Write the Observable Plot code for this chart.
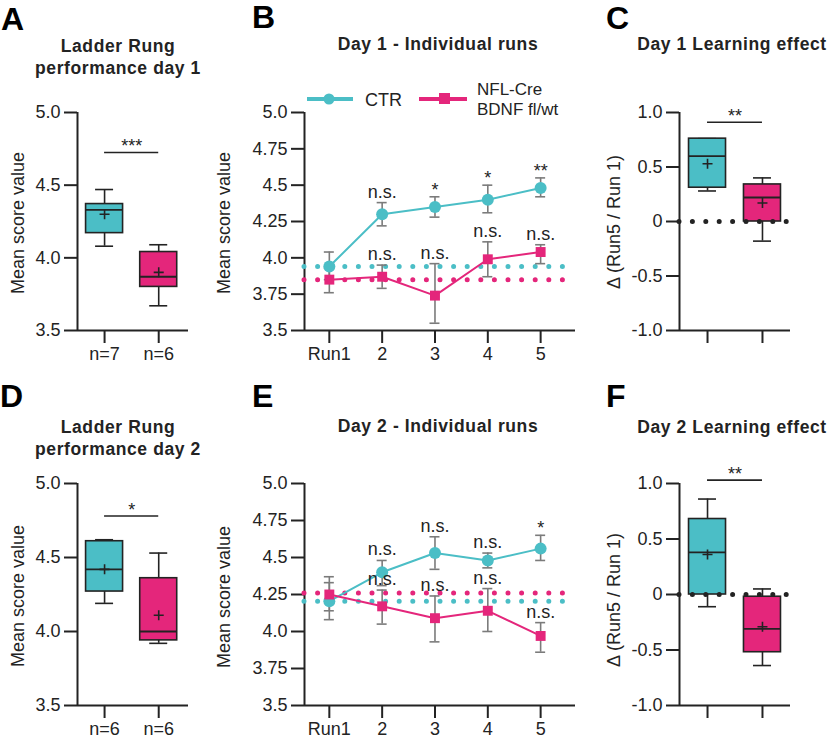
<!DOCTYPE html>
<html><head><meta charset="utf-8">
<script src="https://cdn.jsdelivr.net/npm/d3@7"></script>
<script src="https://cdn.jsdelivr.net/npm/@observablehq/plot@0.6"></script>
<style>
body{margin:0;background:#fff;}
#fig{position:relative;width:828px;height:744px;overflow:hidden;background:#fff;font-family:Arial,"Liberation Sans",sans-serif;}
</style></head><body><div id="fig"></div>
<script>
// ---------- data ----------
const groupNamesDay1 = ["n=7", "n=6"];
const groupNamesDay2 = ["n=6", "n=6"];

// Box plots: Ladder rung performance (A: day 1, D: day 2)
const perfDay1 = [
  {g: 1, min: 4.08, q1: 4.17, med: 4.33, q3: 4.37, max: 4.47, mean: 4.30},
  {g: 2, min: 3.67, q1: 3.80, med: 3.87, q3: 4.04, max: 4.09, mean: 3.90}
];
const perfDay2 = [
  {g: 1, min: 4.19, q1: 4.27, med: 4.42, q3: 4.61, max: 4.62, mean: 4.42},
  {g: 2, min: 3.92, q1: 3.94, med: 4.00, q3: 4.36, max: 4.53, mean: 4.11}
];
// Box plots: learning effect (C: day 1, F: day 2)
const learnDay1 = [
  {g: 1, min: 0.28, q1: 0.31, med: 0.60, q3: 0.76, max: 0.76, mean: 0.53},
  {g: 2, min: -0.18, q1: 0.0, med: 0.22, q3: 0.34, max: 0.40, mean: 0.17}
];
const learnDay2 = [
  {g: 1, min: -0.11, q1: 0.0, med: 0.38, q3: 0.68, max: 0.86, mean: 0.36},
  {g: 2, min: -0.64, q1: -0.52, med: -0.31, q3: -0.02, max: 0.05, mean: -0.29}
];
// significance bars
const sigA = [{x1: 1, x2: 2, y: 4.725, label: "***"}];
const sigC = [{x1: 1, x2: 2, y: 0.91, label: "**"}];
const sigD = [{x1: 1, x2: 2, y: 4.78, label: "*"}];
const sigF = [{x1: 1, x2: 2, y: 1.03, label: "**"}];

// Individual runs
const runs = [1, 2, 3, 4, 5];
const runLabels = ["Run1", "2", "3", "4", "5"];
const ctrDay1Mean = [3.94, 4.30, 4.35, 4.40, 4.48];
const ctrDay1Lo   = [3.85, 4.22, 4.28, 4.31, 4.42];
const ctrDay1Hi   = [4.04, 4.38, 4.42, 4.50, 4.55];
const ctrDay1Sig  = ["", "n.s.", "*", "*", "**"];
const mutDay1Mean = [3.85, 3.87, 3.74, 3.99, 4.04];
const mutDay1Lo   = [3.76, 3.79, 3.55, 3.87, 3.96];
const mutDay1Hi   = [3.93, 3.95, 3.96, 4.11, 4.09];
const mutDay1Sig  = ["", "n.s.", "n.s.", "n.s.", "n.s."];
const day1Baseline = {ctr: 3.94, mut: 3.85};

const ctrDay2Mean = [4.205, 4.40, 4.53, 4.48, 4.56];
const ctrDay2Lo   = [4.08, 4.31, 4.42, 4.43, 4.48];
const ctrDay2Hi   = [4.33, 4.48, 4.64, 4.53, 4.65];
const ctrDay2Sig  = ["", "n.s.", "n.s.", "n.s.", "*"];
const mutDay2Mean = [4.25, 4.17, 4.09, 4.14, 3.97];
const mutDay2Lo   = [4.14, 4.05, 3.93, 4.00, 3.86];
const mutDay2Hi   = [4.37, 4.28, 4.24, 4.29, 4.06];
const mutDay2Sig  = ["", "n.s.", "n.s.", "n.s.", "n.s."];
const day2Baseline = {ctr: 4.205, mut: 4.26};

const scoreTicks = [3.5, 4.0, 4.5, 5.0];
const runScoreTicks = [3.5, 3.75, 4.0, 4.25, 4.5, 4.75, 5.0];
const deltaTicks = [-1.0, -0.5, 0, 0.5, 1.0];

// ---------- styling ----------
const TEAL = "#4bbec6", PINK = "#e4267b", INK = "#232323", GREY = "#7b7b7b";
const FONT = "Arial, 'Liberation Sans', sans-serif";
const fig = document.getElementById("fig");
function place(svg, left, top) {
  svg.style.position = "absolute";
  svg.style.left = left + "px";
  svg.style.top = top + "px";
  fig.appendChild(svg);
}
const thinPlus = {draw(ctx, size) {
  const r = Math.sqrt(size / Math.PI);
  ctx.moveTo(-r, 0); ctx.lineTo(r, 0); ctx.moveTo(0, -r); ctx.lineTo(0, r);
}};
const fmtScore = d => (Math.round(d * 100) % 50 === 0 ? d.toFixed(1) : d.toFixed(2));
const fmtDelta = d => (d === 0 ? "0" : d.toFixed(1));
const groupColor = d => (d.g === 1 ? TEAL : PINK);

function boxPanel({boxes, sig, yDomain, yTicks, yFormat, xLabels, zero, width, marginLeft, marginRight, height, marginBottom, xDomain}) {
  const pxPerUnit = (width - marginLeft - marginRight) / (xDomain[1] - xDomain[0]);
  const half = 18.5 / pxPerUnit, cap = 9 / pxPerUnit;
  const marks = [
    Plot.axisY({ticks: yTicks, tickFormat: yFormat, tickSize: 13, tickPadding: 4, strokeWidth: 2, stroke: INK, fill: INK, fontSize: 18, label: null}),
    Plot.axisX({ticks: [1, 2], tickFormat: d => (xLabels ? xLabels[d - 1] : ""), tickSize: 13, tickPadding: 4, strokeWidth: 2, stroke: INK, fill: INK, fontSize: 18, label: null}),
    Plot.ruleX([xDomain[0]], {y1: yDomain[0], y2: yDomain[1], stroke: INK, strokeWidth: 2}),
    Plot.ruleY([yDomain[0]], {x1: xDomain[0], x2: xDomain[1], stroke: INK, strokeWidth: 2})
  ];
  marks.push(
    Plot.ruleX(boxes, {x: "g", y1: "min", y2: "q1", stroke: INK, strokeWidth: 1.6}),
    Plot.ruleX(boxes, {x: "g", y1: "q3", y2: "max", stroke: INK, strokeWidth: 1.6}),
    Plot.ruleY(boxes, {y: "min", x1: d => d.g - cap, x2: d => d.g + cap, stroke: INK, strokeWidth: 1.6}),
    Plot.ruleY(boxes, {y: "max", x1: d => d.g - cap, x2: d => d.g + cap, stroke: INK, strokeWidth: 1.6}),
    Plot.rect(boxes, {x1: d => d.g - half, x2: d => d.g + half, y1: "q1", y2: "q3", fill: groupColor, stroke: INK, strokeWidth: 1.6}),
    Plot.ruleY(boxes, {y: "med", x1: d => d.g - half, x2: d => d.g + half, stroke: INK, strokeWidth: 1.8}),
    Plot.dot(boxes, {x: "g", y: "mean", symbol: thinPlus, r: 5, fill: "none", stroke: INK, strokeWidth: 1.6})
  );
  if (zero) marks.push(Plot.ruleY([0], {x1: xDomain[0], x2: xDomain[1], stroke: INK, strokeWidth: 5, strokeDasharray: "0,13.4", strokeLinecap: "round"}));
  marks.push(
    Plot.ruleY(sig, {y: "y", x1: "x1", x2: "x2", stroke: INK, strokeWidth: 1.6}),
    Plot.text(sig, {x: d => (d.x1 + d.x2) / 2, y: "y", text: "label", lineAnchor: "bottom", dy: 0, fontSize: 18, fill: INK})
  );
  return Plot.plot({
    width, height, marginLeft, marginRight, marginTop: 22, marginBottom,
    style: {fontFamily: FONT, fontSize: "18px", color: INK, background: "transparent", overflow: "visible"},
    x: {domain: xDomain, axis: null},
    y: {domain: yDomain, axis: null},
    color: {type: "identity"},
    marks
  });
}

function runRows(mean, lo, hi, sig) {
  return runs.map((r, i) => ({run: r, mean: mean[i], lo: lo[i], hi: hi[i], sig: sig[i]}));
}

function linePanel({ctr, mut, base, height, marginBottom}) {
  const width = 380, marginLeft = 104, marginRight = 5;
  const xDomain = [0.53, 5.66], yDomain = [3.5, 5.0];
  const pxPerUnit = (width - marginLeft - marginRight) / (xDomain[1] - xDomain[0]);
  const cap = 5 / pxPerUnit;
  const both = ctr.concat(mut);
  const stars = both.filter(d => d.sig.startsWith("*"));
  const ns = both.filter(d => d.sig === "n.s.");
  return Plot.plot({
    width, height, marginLeft, marginRight, marginTop: 22, marginBottom,
    style: {fontFamily: FONT, fontSize: "18px", color: INK, background: "transparent", overflow: "visible"},
    x: {domain: xDomain, axis: null},
    y: {domain: yDomain, axis: null},
    marks: [
      Plot.axisY({ticks: runScoreTicks, tickFormat: fmtScore, tickSize: 13, tickPadding: 4, strokeWidth: 2, stroke: INK, fill: INK, fontSize: 18, label: null}),
      Plot.axisX({ticks: runs, tickFormat: d => runLabels[d - 1], tickSize: 13, tickPadding: 4, strokeWidth: 2, stroke: INK, fill: INK, fontSize: 18, label: null}),
      Plot.ruleX([xDomain[0]], {y1: yDomain[0], y2: yDomain[1], stroke: INK, strokeWidth: 2}),
      Plot.ruleY([yDomain[0]], {x1: xDomain[0], x2: xDomain[1], stroke: INK, strokeWidth: 2}),
      Plot.ruleY([base.mut], {x1: xDomain[0], x2: 5.45, stroke: PINK, strokeWidth: 5, strokeDasharray: "0,13.6", strokeLinecap: "round"}),
      Plot.ruleY([base.ctr], {x1: xDomain[0], x2: 5.45, stroke: TEAL, strokeWidth: 5, strokeDasharray: "0,13.6", strokeLinecap: "round"}),
      Plot.ruleX(both, {x: "run", y1: "lo", y2: "hi", stroke: GREY, strokeWidth: 1.6}),
      Plot.ruleY(both, {y: "lo", x1: d => d.run - cap, x2: d => d.run + cap, stroke: GREY, strokeWidth: 1.6}),
      Plot.ruleY(both, {y: "hi", x1: d => d.run - cap, x2: d => d.run + cap, stroke: GREY, strokeWidth: 1.6}),
      Plot.line(ctr, {x: "run", y: "mean", stroke: TEAL, strokeWidth: 2}),
      Plot.line(mut, {x: "run", y: "mean", stroke: PINK, strokeWidth: 2}),
      Plot.dot(ctr, {x: "run", y: "mean", r: 6, fill: TEAL, symbol: "circle"}),
      Plot.dot(mut, {x: "run", y: "mean", r: 5.6, fill: PINK, symbol: "square"}),
      Plot.text(ns, {x: "run", y: "hi", text: "sig", lineAnchor: "bottom", dy: -5, fontSize: 18, fill: INK}),
      Plot.text(stars, {x: "run", y: "hi", text: "sig", lineAnchor: "bottom", dy: -1, fontSize: 18, fill: INK})
    ]
  });
}

// ---------- panels ----------
const TOP = {top: 90, height: 280, marginBottom: 40};
const BOT = {top: 461, height: 283, marginBottom: 39};

place(boxPanel({boxes: perfDay1, sig: sigA, yDomain: [3.5, 5.0], yTicks: scoreTicks, yFormat: fmtScore, xLabels: groupNamesDay1,
  zero: false, width: 200, marginLeft: 77, marginRight: 12, height: TOP.height, marginBottom: TOP.marginBottom, xDomain: [0.5, 2.55]}), 0, TOP.top);
place(linePanel({ctr: runRows(ctrDay1Mean, ctrDay1Lo, ctrDay1Hi, ctrDay1Sig), mut: runRows(mutDay1Mean, mutDay1Lo, mutDay1Hi, mutDay1Sig),
  base: day1Baseline, height: TOP.height, marginBottom: TOP.marginBottom}), 200, TOP.top);
place(boxPanel({boxes: learnDay1, sig: sigC, yDomain: [-1, 1], yTicks: deltaTicks, yFormat: fmtDelta, xLabels: null,
  zero: true, width: 248, marginLeft: 99, marginRight: 38, height: TOP.height, marginBottom: TOP.marginBottom, xDomain: [0.49, 2.51]}), 580, TOP.top);

place(boxPanel({boxes: perfDay2, sig: sigD, yDomain: [3.5, 5.0], yTicks: scoreTicks, yFormat: fmtScore, xLabels: groupNamesDay2,
  zero: false, width: 200, marginLeft: 77, marginRight: 12, height: BOT.height, marginBottom: BOT.marginBottom, xDomain: [0.5, 2.55]}), 0, BOT.top);
place(linePanel({ctr: runRows(ctrDay2Mean, ctrDay2Lo, ctrDay2Hi, ctrDay2Sig), mut: runRows(mutDay2Mean, mutDay2Lo, mutDay2Hi, mutDay2Sig),
  base: day2Baseline, height: BOT.height, marginBottom: BOT.marginBottom}), 200, BOT.top);
place(boxPanel({boxes: learnDay2, sig: sigF, yDomain: [-1, 1], yTicks: deltaTicks, yFormat: fmtDelta, xLabels: null,
  zero: true, width: 248, marginLeft: 99, marginRight: 38, height: BOT.height, marginBottom: BOT.marginBottom, xDomain: [0.49, 2.51]}), 580, BOT.top);

// ---------- overlay text: letters, titles, axis labels, legend ----------
const NS = "http://www.w3.org/2000/svg";
const ov = document.createElementNS(NS, "svg");
ov.setAttribute("width", 828); ov.setAttribute("height", 744);
ov.style.position = "absolute"; ov.style.left = "0px"; ov.style.top = "0px";
ov.style.fontFamily = FONT;
fig.appendChild(ov);
function txt(s, x, y, o = {}) {
  const t = document.createElementNS(NS, "text");
  t.textContent = s;
  t.setAttribute("x", o.rotate ? 0 : x); t.setAttribute("y", o.rotate ? 0 : y);
  if (o.rotate) t.setAttribute("transform", `translate(${x},${y}) rotate(${o.rotate})`);
  t.setAttribute("font-size", o.size || 18);
  t.setAttribute("font-weight", o.weight || "normal");
  t.setAttribute("text-anchor", o.anchor || "start");
  t.setAttribute("fill", o.fill || INK);
  if (o.spacing) t.setAttribute("letter-spacing", o.spacing);
  ov.appendChild(t);
}
function el(name, attrs) {
  const e = document.createElementNS(NS, name);
  for (const k in attrs) e.setAttribute(k, attrs[k]);
  ov.appendChild(e);
}
const letters = [["A", 1, 30], ["B", 252, 28], ["C", 606, 29], ["D", 0, 407], ["E", 252, 407], ["F", 606, 407]];
letters.forEach(([s, x, y]) => txt(s, x, y, {size: 32, weight: "bold", fill: "#000"}));
const tOpt = {size: 17.5, weight: "bold", anchor: "middle", spacing: 0.6};
txt("Ladder Rung", 118, 52, tOpt); txt("performance day 1", 118, 74, tOpt);
txt("Day 1 - Individual runs", 438, 50, tOpt);
txt("Day 1 Learning effect", 732, 50, tOpt);
txt("Ladder Rung", 118, 433, tOpt); txt("performance day 2", 118, 455, tOpt);
txt("Day 2 - Individual runs", 438, 432, tOpt);
txt("Day 2 Learning effect", 732, 433, tOpt);
const yl = {size: 18, anchor: "middle", rotate: -90};
txt("Mean score value", 24, 223, yl);
txt("Mean score value", 230, 223, yl);
txt("Δ (Run5 / Run 1)", 620, 222, yl);
txt("Mean score value", 24, 596, yl);
txt("Mean score value", 230, 597, yl);
txt("Δ (Run5 / Run 1)", 620, 600, yl);
// legend (panel B)
el("line", {x1: 307, x2: 353, y1: 99, y2: 99, stroke: TEAL, "stroke-width": 4});
el("circle", {cx: 329, cy: 99, r: 5.5, fill: TEAL});
txt("CTR", 365, 106, {size: 18});
el("line", {x1: 419, x2: 467, y1: 99, y2: 99, stroke: PINK, "stroke-width": 4});
el("rect", {x: 439, y: 93, width: 11, height: 11, fill: PINK});
txt("NFL-Cre", 477, 95, {size: 17});
txt("BDNF fl/wt", 477, 115, {size: 17});
</script></body></html>
